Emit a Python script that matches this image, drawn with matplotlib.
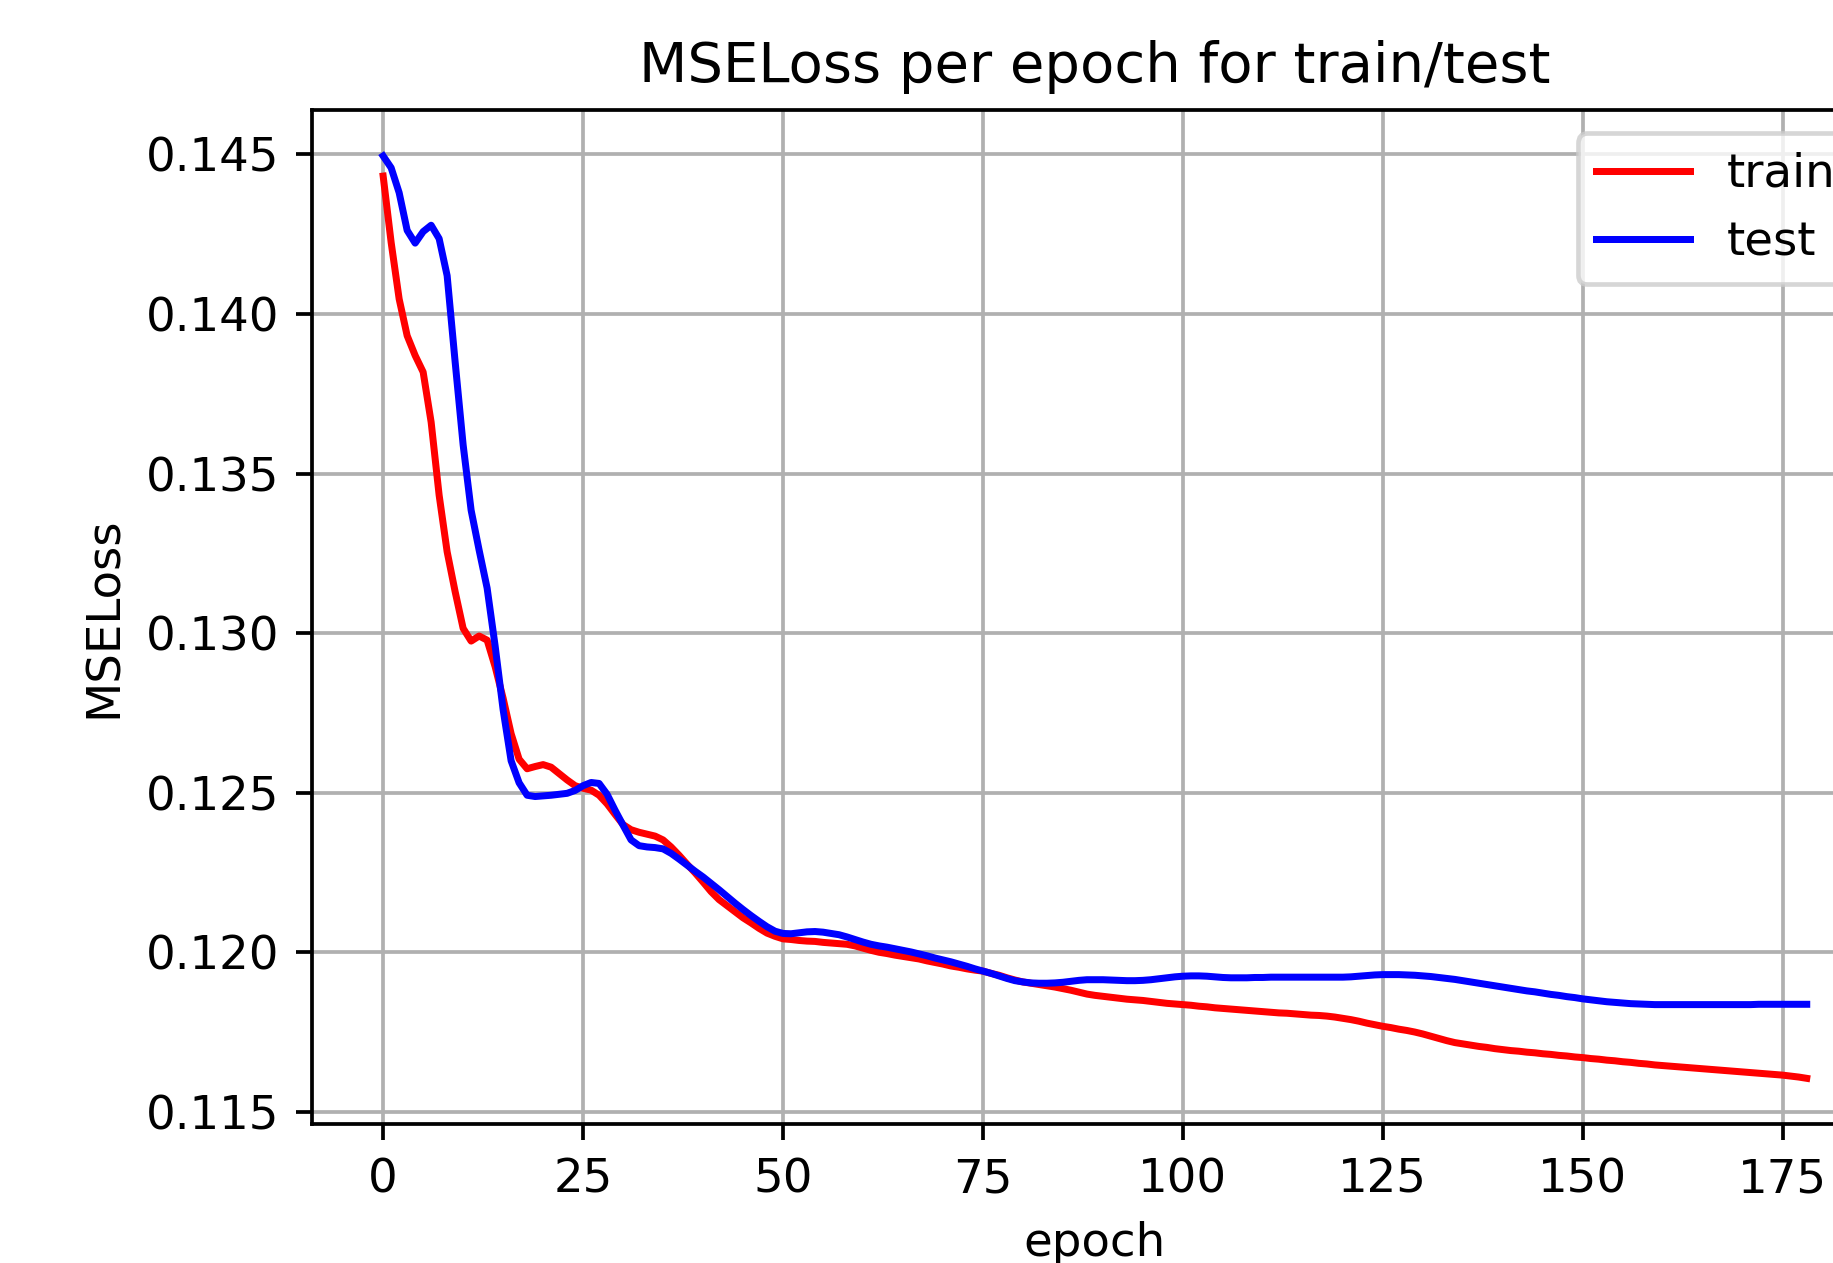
import matplotlib
matplotlib.use("Agg")
import matplotlib.pyplot as plt

epochs = list(range(179))

train_loss = [
    0.14432, 0.14224, 0.14047, 0.13932, 0.13870, 0.13818, 0.13661, 0.13432, 0.13255, 0.13130,
    0.13015, 0.12975, 0.12991, 0.12978, 0.12895, 0.12796, 0.12685, 0.12605, 0.12575, 0.12582,
    0.12588, 0.12580, 0.12560, 0.12540, 0.12522, 0.12514, 0.12508, 0.12492, 0.12465, 0.12432,
    0.12400, 0.12384, 0.12376, 0.12370, 0.12364, 0.12352, 0.12330, 0.12304, 0.12276, 0.12249,
    0.12220, 0.12190, 0.12165, 0.12146, 0.12127, 0.12108, 0.12092, 0.12075, 0.12060, 0.12050,
    0.12042, 0.12040, 0.12037, 0.12035, 0.12034, 0.12031, 0.12029, 0.12027, 0.12025, 0.12020,
    0.12013, 0.12006, 0.12000, 0.11996, 0.11991, 0.11987, 0.11983, 0.11979, 0.11973, 0.11968,
    0.11963, 0.11957, 0.11953, 0.11948, 0.11944, 0.11941, 0.11934, 0.11928, 0.11920, 0.11913,
    0.11907, 0.11903, 0.11899, 0.11895, 0.11891, 0.11886, 0.11881, 0.11875, 0.11869, 0.11865,
    0.11862, 0.11859, 0.11856, 0.11853, 0.11851, 0.11849, 0.11846, 0.11843, 0.11840, 0.11838,
    0.11836, 0.11834, 0.11831, 0.11829, 0.11826, 0.11824, 0.11822, 0.11820, 0.11818, 0.11816,
    0.11814, 0.11812, 0.11810, 0.11809, 0.11807, 0.11805, 0.11803, 0.11802, 0.11800, 0.11797,
    0.11793, 0.11789, 0.11784, 0.11778, 0.11773, 0.11768, 0.11764, 0.11759, 0.11755, 0.11750,
    0.11744, 0.11737, 0.11730, 0.11723, 0.11717, 0.11713, 0.11709, 0.11705, 0.11702, 0.11698,
    0.11695, 0.11692, 0.11690, 0.11687, 0.11685, 0.11682, 0.11680, 0.11677, 0.11675, 0.11672,
    0.11670, 0.11667, 0.11665, 0.11662, 0.11660, 0.11657, 0.11655, 0.11652, 0.11650, 0.11647,
    0.11645, 0.11643, 0.11641, 0.11639, 0.11637, 0.11635, 0.11633, 0.11631, 0.11629, 0.11627,
    0.11625, 0.11623, 0.11621, 0.11619, 0.11617, 0.11615, 0.11612, 0.11609, 0.11605,
]

test_loss = [
    0.14495, 0.14458, 0.14380, 0.14262, 0.14222, 0.14258, 0.14278, 0.14236, 0.14120, 0.13850,
    0.13590, 0.13385, 0.13260, 0.13141, 0.12960, 0.12760, 0.12600, 0.12531, 0.12492, 0.12488,
    0.12490, 0.12492, 0.12495, 0.12498, 0.12507, 0.12522, 0.12532, 0.12529, 0.12495, 0.12445,
    0.12398, 0.12352, 0.12334, 0.12330, 0.12328, 0.12324, 0.12310, 0.12292, 0.12273, 0.12254,
    0.12236, 0.12216, 0.12196, 0.12175, 0.12154, 0.12134, 0.12115, 0.12097, 0.12080, 0.12066,
    0.12059, 0.12058, 0.12061, 0.12064, 0.12065, 0.12063, 0.12059, 0.12055, 0.12048, 0.12040,
    0.12032, 0.12025, 0.12020, 0.12016, 0.12011, 0.12006, 0.12001, 0.11995, 0.11989, 0.11982,
    0.11976, 0.11970, 0.11963, 0.11956, 0.11948, 0.11941, 0.11934, 0.11926, 0.11918, 0.11911,
    0.11907, 0.11904, 0.11903, 0.11903, 0.11904, 0.11906, 0.11909, 0.11912, 0.11914, 0.11914,
    0.11914, 0.11913, 0.11912, 0.11911, 0.11911, 0.11912, 0.11914, 0.11917, 0.11920, 0.11923,
    0.11925, 0.11926, 0.11926, 0.11925, 0.11923, 0.11921, 0.11920, 0.11920, 0.11920, 0.11921,
    0.11921, 0.11922, 0.11922, 0.11922, 0.11922, 0.11922, 0.11922, 0.11922, 0.11922, 0.11922,
    0.11922, 0.11923, 0.11925, 0.11927, 0.11929, 0.11930, 0.11930, 0.11930, 0.11929, 0.11928,
    0.11926, 0.11924, 0.11921, 0.11918, 0.11915, 0.11911, 0.11907, 0.11903, 0.11899, 0.11895,
    0.11891, 0.11887, 0.11883, 0.11879, 0.11876, 0.11872, 0.11868, 0.11865, 0.11861, 0.11858,
    0.11854, 0.11851, 0.11848, 0.11845, 0.11843, 0.11841, 0.11839, 0.11838, 0.11837, 0.11836,
    0.11836, 0.11836, 0.11836, 0.11836, 0.11836, 0.11836, 0.11836, 0.11836, 0.11836, 0.11836,
    0.11836, 0.11836, 0.11837, 0.11837, 0.11837, 0.11837, 0.11837, 0.11837, 0.11837,
]

DPI = 336
fig = plt.figure(figsize=(1833 / DPI, 1263 / DPI), dpi=DPI)
ax = fig.add_axes([0.1702, 0.1097, 0.8543, 0.8033])
ax.plot(epochs, train_loss, color="red", label="train")
ax.plot(epochs, test_loss, color="blue", label="test")
ax.set_title("MSELoss per epoch for train/test")
ax.set_xlabel("epoch")
ax.set_ylabel("MSELoss")
ax.grid(True)
ax.legend(loc="upper right")
fig.savefig("out.png", dpi=DPI)
